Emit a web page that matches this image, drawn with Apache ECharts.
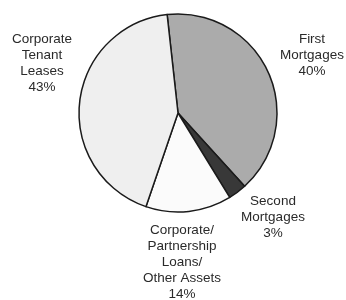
<!DOCTYPE html>
<html>
<head>
<meta charset="utf-8">
<script src="https://cdn.jsdelivr.net/npm/echarts@6/dist/echarts.min.js"></script>
<style>html,body{margin:0;padding:0;background:#fff;}#c{width:346px;height:300px;}</style>
</head>
<body>
<div id="c"></div>
<script>
var categories = ['First\nMortgages', 'Second\nMortgages', 'Corporate/\nPartnership\nLoans/\nOther Assets', 'Corporate\nTenant\nLeases'];
var values = [40, 3, 14, 43];
var percentLabels = ['40%', '3%', '14%', '43%'];
var colors = ['#ababab', '#383838', '#fbfbfb', '#efefef'];
// label anchor points (layout only)
var labelPos = [[312, 55], [273, 217], [182, 262], [42, 63]];

var chart = echarts.init(document.getElementById('c'));
chart.setOption({
  animation: false,
  series: [{
    type: 'pie',
    center: [178, 113],
    radius: 99,
    startAngle: 96.3,
    clockwise: true,
    data: categories.map(function (c, i) {
      return { name: c, value: values[i], itemStyle: { color: colors[i] } };
    }),
    itemStyle: { borderColor: '#1a1a1a', borderWidth: 1.5 },
    emphasis: { disabled: true },
    label: {
      show: true,
      position: 'outside',
      formatter: function (p) { return p.name + '\n' + percentLabels[p.dataIndex]; },
      fontFamily: 'Liberation Sans, Arial, sans-serif',
      fontSize: 13.5,
      lineHeight: 16,
      color: '#2a2a2a',
      align: 'center',
      overflow: 'none',
      width: 120
    },
    labelLine: { show: false },
    labelLayout: function (p) {
      var pos = labelPos[p.dataIndex];
      return { x: pos[0], y: pos[1], align: 'center', verticalAlign: 'middle' };
    }
  }]
});
</script>
</body>
</html>
